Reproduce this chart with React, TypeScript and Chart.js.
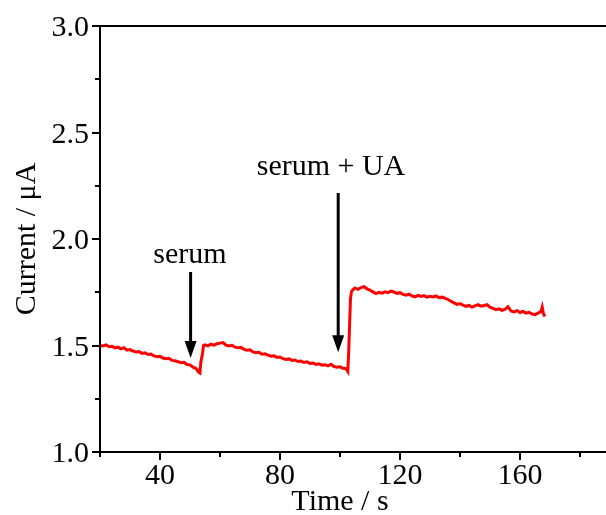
import { useEffect, useRef } from "react";
import { Chart, registerables } from "chart.js";

Chart.register(...registerables);

// Amperometric trace: time (s) and current (µA)
const timeSeconds = [
  20, 21, 22, 23, 24, 25, 26, 27, 28, 29, 30, 31, 32, 33, 34, 35, 36, 37, 38, 39,
  40, 41, 42, 43, 44, 45, 46, 47, 48, 49, 50, 51, 52, 52.8, 53.3, 53.6, 54.2, 54.5,
  55, 56, 57, 58, 59, 60, 61, 62, 63, 64, 65, 66, 67, 68, 69, 70, 71, 72, 73, 74,
  75, 76, 77, 78, 79, 80, 81, 82, 83, 84, 85, 86, 87, 88, 89, 90, 91, 92, 93, 94,
  95, 96, 97, 98, 99, 100, 101, 102, 102.6, 102.9, 103.2, 103.5, 103.8,
  104, 105, 106, 107, 108, 109, 110, 111, 112, 113, 114, 115, 116, 117, 118, 119,
  120, 121, 122, 123, 124, 125, 126, 127, 128, 129, 130, 131, 132, 133, 134, 135,
  136, 137, 138, 139, 140, 141, 142, 143, 144, 145, 146, 147, 148, 149, 150, 151,
  152, 153, 154, 155, 156, 157, 158, 159, 160, 161, 162, 163, 164, 165, 166, 167,
  167.4, 167.8, 168.3,
];

const currentMicroAmp = [
  1.500, 1.498, 1.503, 1.494, 1.496, 1.489, 1.492, 1.484, 1.490, 1.478, 1.481, 1.474,
  1.470, 1.472, 1.463, 1.466, 1.458, 1.460, 1.451, 1.447, 1.449, 1.441, 1.438, 1.440,
  1.430, 1.428, 1.424, 1.419, 1.421, 1.411, 1.409, 1.398, 1.392, 1.376, 1.371, 1.420,
  1.465, 1.500,
  1.503, 1.498, 1.506, 1.502, 1.508, 1.511, 1.514, 1.502, 1.498, 1.501, 1.492, 1.489,
  1.491, 1.482, 1.478, 1.480, 1.470, 1.466, 1.468, 1.459, 1.461, 1.455, 1.450, 1.452,
  1.444, 1.446, 1.438, 1.434, 1.437, 1.430, 1.432, 1.425, 1.427, 1.420, 1.423, 1.416,
  1.418, 1.411, 1.414, 1.408, 1.410, 1.404, 1.412, 1.401, 1.398, 1.400, 1.393, 1.391,
  1.378, 1.470, 1.600, 1.720, 1.750,
  1.758, 1.770, 1.764, 1.772, 1.776, 1.766, 1.760, 1.752, 1.744, 1.750, 1.746, 1.752,
  1.748, 1.755, 1.751, 1.745, 1.748, 1.740, 1.736, 1.741, 1.733, 1.728, 1.735, 1.730,
  1.734, 1.727, 1.731, 1.728, 1.733, 1.725, 1.727, 1.722, 1.716, 1.708, 1.700, 1.693,
  1.697, 1.690, 1.684, 1.688, 1.680, 1.686, 1.692, 1.685, 1.688, 1.692, 1.680, 1.674,
  1.668, 1.672, 1.665, 1.670, 1.682, 1.662, 1.658, 1.664, 1.655, 1.660, 1.652, 1.656,
  1.648, 1.645, 1.652, 1.660, 1.680, 1.650, 1.636,
];

// Axis ticks
const xMajorTicks = [40, 80, 120, 160];
const xMinorTicks = [20, 60, 100, 140, 180];
const yMajorTicks = [1.0, 1.5, 2.0, 2.5, 3.0];
const yMinorTicks = [1.25, 1.75, 2.25, 2.75];

// Injection markers
const markerLabels = ["serum", "serum + UA"];
const markerTimes = [50.2, 99.4];
const markerArrowTops = [1.845, 2.216];
const markerArrowTips = [1.441, 1.468];
const markerLabelTimes = [50.0, 97.0];
const markerLabelLevels = [1.887, 2.3];

const FONT = '30px "Liberation Serif", "Times New Roman", serif';

const framePlugin = {
  id: "frame",
  afterDraw(chart: any) {
    const ctx: CanvasRenderingContext2D = chart.ctx;
    const xs = chart.scales.x;
    const ys = chart.scales.y;
    const area = chart.chartArea;
    ctx.save();
    ctx.strokeStyle = "#000";
    ctx.fillStyle = "#000";
    ctx.lineWidth = 2;
    ctx.lineCap = "butt";

    // frame lines: left, bottom, top
    ctx.beginPath();
    ctx.moveTo(area.left, area.top);
    ctx.lineTo(area.left, area.bottom);
    ctx.moveTo(area.left - 1, area.bottom);
    ctx.lineTo(area.right, area.bottom);
    ctx.moveTo(area.left - 1, area.top);
    ctx.lineTo(area.right, area.top);
    ctx.stroke();

    // x ticks
    ctx.beginPath();
    xMajorTicks.forEach((v) => {
      const px = Math.round(xs.getPixelForValue(v));
      ctx.moveTo(px, area.bottom);
      ctx.lineTo(px, area.bottom + 8);
    });
    xMinorTicks.forEach((v) => {
      const px = Math.round(xs.getPixelForValue(v));
      ctx.moveTo(px, area.bottom);
      ctx.lineTo(px, area.bottom + 5);
    });
    // y ticks
    yMajorTicks.forEach((v) => {
      const py = Math.round(ys.getPixelForValue(v));
      ctx.moveTo(area.left, py);
      ctx.lineTo(area.left - 8, py);
    });
    yMinorTicks.forEach((v) => {
      const py = Math.round(ys.getPixelForValue(v));
      ctx.moveTo(area.left, py);
      ctx.lineTo(area.left - 5, py);
    });
    ctx.stroke();

    ctx.font = FONT;
    ctx.textBaseline = "alphabetic";
    ctx.textAlign = "center";
    xMajorTicks.forEach((v) => {
      ctx.fillText(String(v), xs.getPixelForValue(v), area.bottom + 32);
    });
    ctx.textAlign = "right";
    yMajorTicks.forEach((v) => {
      ctx.fillText(v.toFixed(1), area.left - 11, ys.getPixelForValue(v) + 10);
    });

    // axis titles
    ctx.textAlign = "center";
    ctx.fillText("Time / s", xs.getPixelForValue(100), area.bottom + 58);
    ctx.save();
    ctx.translate(35, ys.getPixelForValue(2.0));
    ctx.rotate(-Math.PI / 2);
    ctx.fillText("Current / \u03bcA", 0, 0);
    ctx.restore();

    // arrows and labels
    markerTimes.forEach((t, i) => {
      const px = xs.getPixelForValue(t);
      const top = ys.getPixelForValue(markerArrowTops[i]);
      const tip = ys.getPixelForValue(markerArrowTips[i]);
      const headLen = 17;
      const headHalf = 6;
      ctx.lineWidth = 3;
      ctx.beginPath();
      ctx.moveTo(px, top);
      ctx.lineTo(px, tip - headLen + 2);
      ctx.stroke();
      ctx.beginPath();
      ctx.moveTo(px - headHalf, tip - headLen);
      ctx.lineTo(px + headHalf, tip - headLen);
      ctx.lineTo(px, tip);
      ctx.closePath();
      ctx.fill();
      ctx.fillText(
        markerLabels[i],
        xs.getPixelForValue(markerLabelTimes[i]),
        ys.getPixelForValue(markerLabelLevels[i])
      );
    });
    ctx.restore();
  },
};

export default function App() {
  const canvasRef = useRef<HTMLCanvasElement | null>(null);

  useEffect(() => {
    const canvas = canvasRef.current;
    if (!canvas) return;
    const points = timeSeconds.map((t, i) => ({ x: t, y: currentMicroAmp[i] }));
    const chart = new Chart(canvas, {
      type: "line",
      data: {
        datasets: [
          {
            data: points,
            borderColor: "#ff0000",
            borderWidth: 3,
            pointRadius: 0,
            tension: 0,
            fill: false,
          },
        ],
      },
      options: {
        animation: false,
        responsive: false,
        maintainAspectRatio: false,
        devicePixelRatio: 1,
        layout: { padding: { left: 100, top: 26, right: 6, bottom: 63 } },
        scales: {
          x: { type: "linear", min: 20, max: 190, display: false },
          y: { type: "linear", min: 1, max: 3, display: false },
        },
        plugins: {
          legend: { display: false },
          tooltip: { enabled: false },
        },
      },
      plugins: [framePlugin],
    });
    return () => chart.destroy();
  }, []);

  return (
    <div
      style={{
        position: "fixed",
        left: 0,
        top: 0,
        width: 606,
        height: 515,
        overflow: "hidden",
        background: "#fff",
      }}
    >
      <canvas
        ref={canvasRef}
        width={616}
        height={515}
        style={{ display: "block", width: 616, height: 515 }}
      />
    </div>
  );
}
